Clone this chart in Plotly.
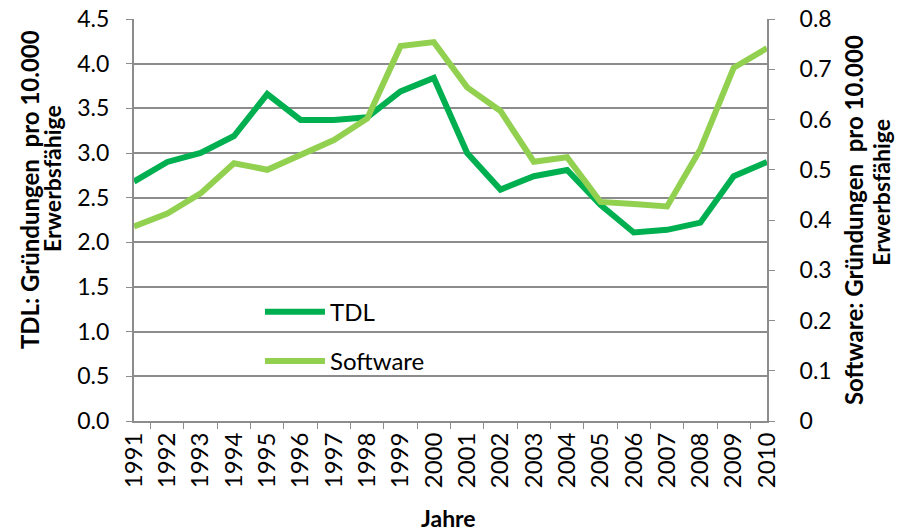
import plotly.graph_objects as go

years = [str(y) for y in range(1991, 2011)]
tdl = [2.68, 2.90, 3.00, 3.19, 3.66, 3.37, 3.37, 3.40, 3.69, 3.84,
       3.00, 2.59, 2.74, 2.81, 2.42, 2.11, 2.14, 2.22, 2.74, 2.90]
software = [0.387, 0.413, 0.453, 0.513, 0.500, 0.531, 0.559, 0.602, 0.746, 0.754,
            0.664, 0.617, 0.516, 0.525, 0.436, 0.432, 0.427, 0.541, 0.703, 0.742]

font = "Lato, Open Sans, sans-serif"
grey = "#8c8c8c"

fig = go.Figure()
fig.add_trace(go.Scatter(x=years, y=tdl, name="TDL", mode="lines", legendgroup="a",
                         line=dict(color="#00b050", width=6)))
fig.add_trace(go.Scatter(x=years, y=software, name="Software", mode="lines", legendgroup="b",
                         line=dict(color="#92d050", width=6), yaxis="y2"))

fig.update_layout(
    width=897, height=531,
    margin=dict(l=134, r=130, t=19, b=110),
    plot_bgcolor="white", paper_bgcolor="white",
    font=dict(family=font, size=24, color="black"),
    showlegend=True,
    legend=dict(x=0.199, y=0.21, xanchor="left", yanchor="middle",
                bgcolor="rgba(0,0,0,0)", tracegroupgap=15, itemwidth=60,
                font=dict(size=24)),
    xaxis=dict(type="category", tickangle=-90, tickson="boundaries",
               ticks="outside", ticklen=6, tickcolor=grey, showline=True,
               linecolor=grey, linewidth=2, showgrid=False, automargin=False,
               tickfont=dict(size=24)),
    yaxis=dict(range=[0, 4.5], dtick=0.5, tickformat=".1f", ticks="outside",
               ticklen=6, tickcolor=grey, showline=True, linecolor=grey, linewidth=2,
               gridcolor=grey, gridwidth=1.7, zeroline=False, automargin=False,
               tickfont=dict(size=23), ticklabelstandoff=12,
               ticklabeloverflow="allow"),
    yaxis2=dict(range=[0, 0.8], dtick=0.1, overlaying="y", side="right",
                ticks="outside", ticklen=6, tickcolor=grey, showline=True,
                linecolor=grey, linewidth=2, showgrid=False, zeroline=False,
                automargin=False, tickfont=dict(size=23), ticklabelstandoff=20,
                ticklabeloverflow="allow"),
)

titles = [
    ("<b>TDL: Gründungen  pro 10.000</b>", -0.1659, 0.577, 24),
    ("<b>Erwerbsfähige</b>", -0.1296, 0.6045, 23),
    ("<b>Software: Gründungen  pro 10.000</b>", 1.136, 0.5, 24),
    ("<b>Erwerbsfähige</b>", 1.18, 0.57, 23),
]
for text, x, y, size in titles:
    fig.add_annotation(text=text, x=x, y=y, xref="paper", yref="paper",
                       xanchor="center", yanchor="middle", textangle=-90,
                       showarrow=False, font=dict(size=size))
fig.add_annotation(text="<b>Jahre</b>", x=0.4976, y=-0.2413, xref="paper", yref="paper",
                   xanchor="center", yanchor="middle", showarrow=False,
                   font=dict(size=23))

# drop the default 8px body margin so the figure fills the window
fig.write_html("out.html", config={"displayModeBar": False},
               post_script="document.body.style.margin = '0';")
